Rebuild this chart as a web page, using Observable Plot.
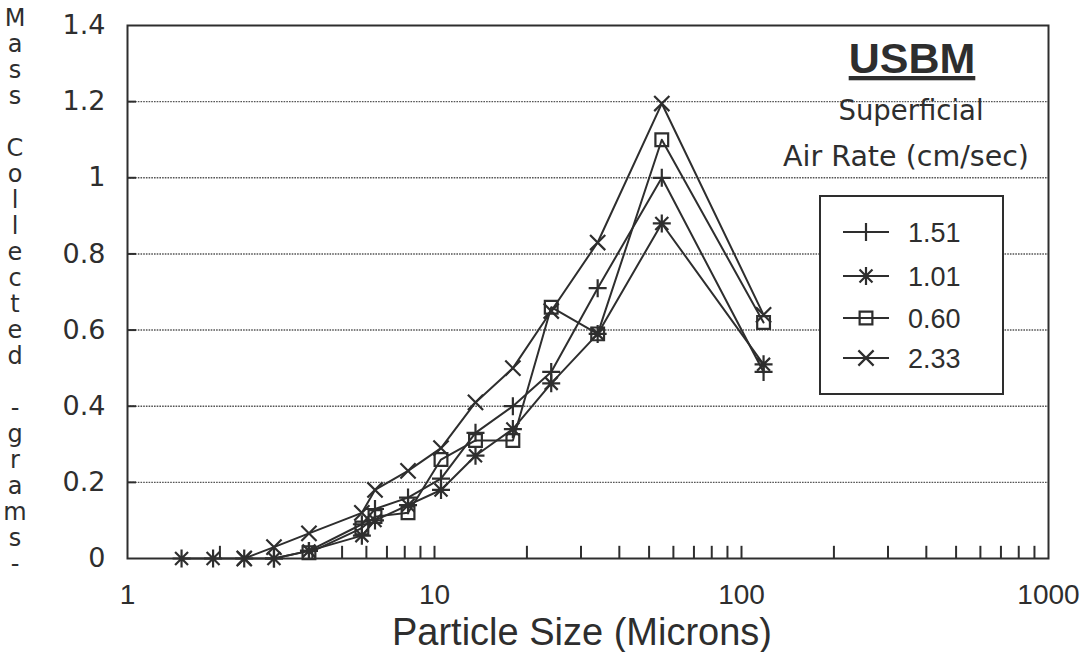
<!DOCTYPE html>
<html><head><meta charset="utf-8">
<script src="https://cdn.jsdelivr.net/npm/d3@7"></script>
<script src="https://cdn.jsdelivr.net/npm/@observablehq/plot@0.6"></script>
<style>
html,body{margin:0;padding:0;background:#fff;}
#chart{position:relative;width:1090px;height:652px;overflow:hidden;}
</style></head><body><div id="chart"></div>
<script>
// ---- data ----
const seriesNames = ["1.51", "1.01", "0.60", "2.33"];
const x151 = [3.0, 3.9, 5.8, 6.4, 8.2, 10.5, 13.6, 18, 24, 34, 55, 118];
const y151 = [0.00, 0.02, 0.09, 0.13, 0.16, 0.21, 0.33, 0.40, 0.49, 0.71, 1.00, 0.49];
const x101 = [1.5, 1.9, 2.4, 3.0, 3.9, 5.8, 6.4, 8.2, 10.5, 13.6, 18, 24, 34, 55, 118];
const y101 = [0, 0, 0, 0, 0.02, 0.06, 0.10, 0.14, 0.18, 0.27, 0.34, 0.46, 0.59, 0.88, 0.51];
const x060 = [3.9, 5.8, 6.4, 8.2, 10.5, 13.6, 18, 24, 34, 55, 118];
const y060 = [0.015, 0.08, 0.11, 0.12, 0.26, 0.31, 0.31, 0.66, 0.59, 1.10, 0.62];
const x233 = [2.4, 3.0, 3.9, 5.8, 6.4, 8.2, 10.5, 13.6, 18, 24, 34, 55, 118];
const y233 = [0, 0.03, 0.066, 0.12, 0.18, 0.23, 0.29, 0.41, 0.50, 0.65, 0.83, 1.195, 0.64];

const xTicks = [1, 10, 100, 1000];
const xTickLabels = ["1", "10", "100", "1000"];
const xMinorTicks = [2,3,4,5,6,7,8,9,10,20,30,40,50,60,70,80,90,100,200,300,400,500,600,700,800,900];
const yTicks = [0, 0.2, 0.4, 0.6, 0.8, 1.0, 1.2, 1.4];
const yTickLabels = ["0", "0.2", "0.4", "0.6", "0.8", "1", "1.2", "1.4"];
const yGrid = [0.2, 0.4, 0.6, 0.8, 1.0, 1.2];
const yLabelChars = ["M","a","s","s","","C","o","l","l","e","c","t","e","d","","-","g","r","a","m","s","-"];

// ---- symbols (stroke-only, drawn by the library) ----
function makeSym(fn){ return {draw(ctx, size){ const r = Math.sqrt(size/Math.PI); fn(ctx, r); }}; }
const symPlus = makeSym((c,r)=>{ c.moveTo(0,-r); c.lineTo(0,r); c.moveTo(-r,0); c.lineTo(r,0); });
const symAst = makeSym((c,r)=>{ const d=r*0.72; c.moveTo(0,-r); c.lineTo(0,r); c.moveTo(-r,0); c.lineTo(r,0); c.moveTo(-d,-d); c.lineTo(d,d); c.moveTo(-d,d); c.lineTo(d,-d); });
const symSquare = makeSym((c,r)=>{ const h=r*0.75; c.moveTo(-h,-h); c.lineTo(h,-h); c.lineTo(h,h); c.lineTo(-h,h); c.closePath(); });
const symTimes = makeSym((c,r)=>{ const d=r*0.8; c.moveTo(-d,-d); c.lineTo(d,d); c.moveTo(-d,d); c.lineTo(d,-d); });

const rows = (xs, ys, s) => xs.map((x,i)=>({x, y: ys[i], s}));
const series = [
  {name: seriesNames[0], data: rows(x151, y151, seriesNames[0]), sym: symPlus, r: 9},
  {name: seriesNames[1], data: rows(x101, y101, seriesNames[1]), sym: symAst, r: 9},
  {name: seriesNames[2], data: rows(x060, y060, seriesNames[2]), sym: symSquare, r: 8.5},
  {name: seriesNames[3], data: rows(x233, y233, seriesNames[3]), sym: symTimes, r: 9.5}
];

const ink = "#2e2e2e";
const marks = [
  Plot.ruleY(yGrid, {y: d=>d, stroke: "#555", strokeWidth: 1.4, strokeDasharray: "1.6,1.1"}),
  Plot.ruleX(xMinorTicks, {x: d=>d, y1: 0, y2: 0.032, stroke: ink, strokeWidth: 2}),
  Plot.ruleY(yGrid, {y: d=>d, x1: 1, x2: 1.07, stroke: ink, strokeWidth: 2}),
];
for (const s of series) {
  marks.push(Plot.line(s.data, {x: "x", y: "y", stroke: ink, strokeWidth: 2}));
}
for (const s of series) {
  marks.push(Plot.dot(s.data, {x: "x", y: "y", symbol: s.sym, r: s.r, stroke: ink, fill: "none", strokeWidth: 2.2}));
}
marks.push(Plot.axisX(xTicks, {tickSize: 0, tickPadding: 26, tickFormat: (d) => xTickLabels[xTicks.indexOf(d)], label: null}));
marks.push(Plot.axisY(yTicks, {tickSize: 0, tickPadding: 22, tickFormat: (d) => yTickLabels[yTicks.indexOf(d)], label: null}));
marks.push(Plot.frame({stroke: ink, strokeWidth: 2}));

const chart = Plot.plot({
  width: 1090, height: 652,
  marginLeft: 127, marginRight: 42, marginTop: 25, marginBottom: 94,
  x: {type: "log", domain: [1, 1000]},
  y: {domain: [0, 1.4]},
  style: {background: "#fff", color: ink},
  marks
});
document.getElementById("chart").appendChild(chart);

const svg = d3.select(chart);
svg.selectAll('g[aria-label="x-axis tick label"], g[aria-label="x-axis tick label"] text')
  .attr("font-family", "'Liberation Sans Narrow', 'Liberation Sans', sans-serif").attr("font-size", 28).attr("fill", ink);
svg.selectAll('g[aria-label="y-axis tick label"], g[aria-label="y-axis tick label"] text')
  .attr("font-family", "'DejaVu Sans', sans-serif").attr("font-size", 27).attr("fill", ink);

// x-axis title
svg.append("text").attr("x", 582).attr("y", 645).attr("text-anchor", "middle")
  .attr("font-family", "'Liberation Sans', sans-serif").attr("font-size", 38).attr("fill", ink)
  .text("Particle Size (Microns)");

// stacked y-axis title
const yl = svg.append("g").attr("font-family", "'DejaVu Sans', sans-serif").attr("font-size", 24).attr("fill", ink).attr("text-anchor", "middle");
yLabelChars.forEach((ch, i) => {
  if (!ch) return;
  yl.append("text").attr("x", 15).attr("y", 26 + i * 26).text(ch);
});

// annotation block
const ann = svg.append("g").attr("fill", ink).attr("text-anchor", "middle");
ann.append("text").attr("x", 912).attr("y", 73).attr("font-family", "'Liberation Sans', sans-serif")
  .attr("font-weight", "bold").attr("font-size", 43).attr("text-decoration", "underline").text("USBM");
ann.append("text").attr("x", 911).attr("y", 120).attr("font-family", "'DejaVu Sans', sans-serif")
  .attr("font-size", 27.5).text("Superficial");
ann.append("text").attr("x", 906).attr("y", 166).attr("font-family", "'DejaVu Sans', sans-serif")
  .attr("font-size", 28.5).text("Air Rate (cm/sec)");

// legend box
const lg = svg.append("g");
lg.append("rect").attr("x", 820).attr("y", 196).attr("width", 183).attr("height", 198)
  .attr("fill", "#fff").attr("stroke", ink).attr("stroke-width", 2);
const ly = [232, 276, 318, 358];
series.forEach((s, i) => {
  const g = lg.append("g").attr("transform", `translate(0,${ly[i]})`);
  g.append("line").attr("x1", 843).attr("x2", 889).attr("y1", 0).attr("y2", 0).attr("stroke", ink).attr("stroke-width", 2);
  g.append("path").attr("transform", "translate(866,0)")
    .attr("d", d3.symbol().type(s.sym).size(Math.PI * s.r * s.r)())
    .attr("fill", "none").attr("stroke", ink).attr("stroke-width", 2.2);
  g.append("text").attr("x", 908).attr("y", 0).attr("dy", "0.36em").attr("text-anchor", "start")
    .attr("font-family", "'Liberation Sans Narrow', 'Liberation Sans', sans-serif").attr("font-size", 27)
    .attr("fill", ink).text(s.name);
});
</script></body></html>
